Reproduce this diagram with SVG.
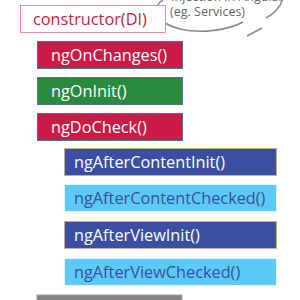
<svg xmlns="http://www.w3.org/2000/svg" width="300" height="300" viewBox="0 0 300 300">
<style>
text{font-family:"Open Sans","Noto Sans","Liberation Sans",sans-serif;font-size:16.3px}
.red rect{fill:#c91b45;stroke:#5b6aa6;stroke-width:1}
.red text,.green text,.dark text{fill:#ffffff}
.green rect{fill:#2a8b3f;stroke:#5b6aa6;stroke-width:1}
.dark rect{fill:#3a4fa1;stroke:#c9ad8c;stroke-width:1}
.light rect{fill:#5ccaf6;stroke:#e8f4fb;stroke-width:1}
.light text{fill:#3a4fa1}
.note text{font-size:12.5px;fill:#666666}
</style>
<rect width="300" height="300" fill="#ffffff"/>
<g id="note" class="note">
<path d="M166,-2 C150,6 154,22 180,29 C202,34 228,30 243,22" fill="none" stroke="#8a8a8a" stroke-width="1.6"/>
<path d="M247,36 L262,28" fill="none" stroke="#8a8a8a" stroke-width="1.6"/>
<path d="M266,18 C275,13 281,6 283,-2" fill="none" stroke="#8a8a8a" stroke-width="1.6"/>
<text x="171" y="1">Injection in Angular</text>
<text x="170" y="16">(eg. Services)</text>
</g>
<g id="constructor">
<rect x="20.5" y="5.5" width="145" height="27" fill="#ffffff" stroke="#e58fa2" stroke-width="1"/>
<text x="33" y="25" fill="#c91b45" font-size="16">constructor(DI)</text>
</g>
<g id="ngOnChanges" class="red">
<rect x="37.5" y="41.5" width="145" height="27"/>
<text x="51" y="61">ngOnChanges()</text>
</g>
<g id="ngOnInit" class="green">
<rect x="37.5" y="77.5" width="145" height="27"/>
<text x="51" y="97">ngOnInit()</text>
</g>
<g id="ngDoCheck" class="red">
<rect x="37.5" y="113.5" width="145" height="27"/>
<text x="51" y="133">ngDoCheck()</text>
</g>
<g id="ngAfterContentInit" class="dark">
<rect x="64.5" y="148.5" width="212" height="27"/>
<text x="74" y="168">ngAfterContentInit()</text>
</g>
<g id="ngAfterContentChecked" class="light">
<rect x="64.5" y="184.5" width="212" height="27"/>
<text x="74" y="204">ngAfterContentChecked()</text>
</g>
<g id="ngAfterViewInit" class="dark">
<rect x="64.5" y="221.5" width="212" height="27"/>
<text x="74" y="241">ngAfterViewInit()</text>
</g>
<g id="ngAfterViewChecked" class="light">
<rect x="64.5" y="258.5" width="212" height="27"/>
<text x="74" y="278">ngAfterViewChecked()</text>
</g>
<g id="next">
<rect x="37" y="295" width="145" height="6" fill="#858585" stroke="#a0a0a0" stroke-width="1"/>
</g>
</svg>
